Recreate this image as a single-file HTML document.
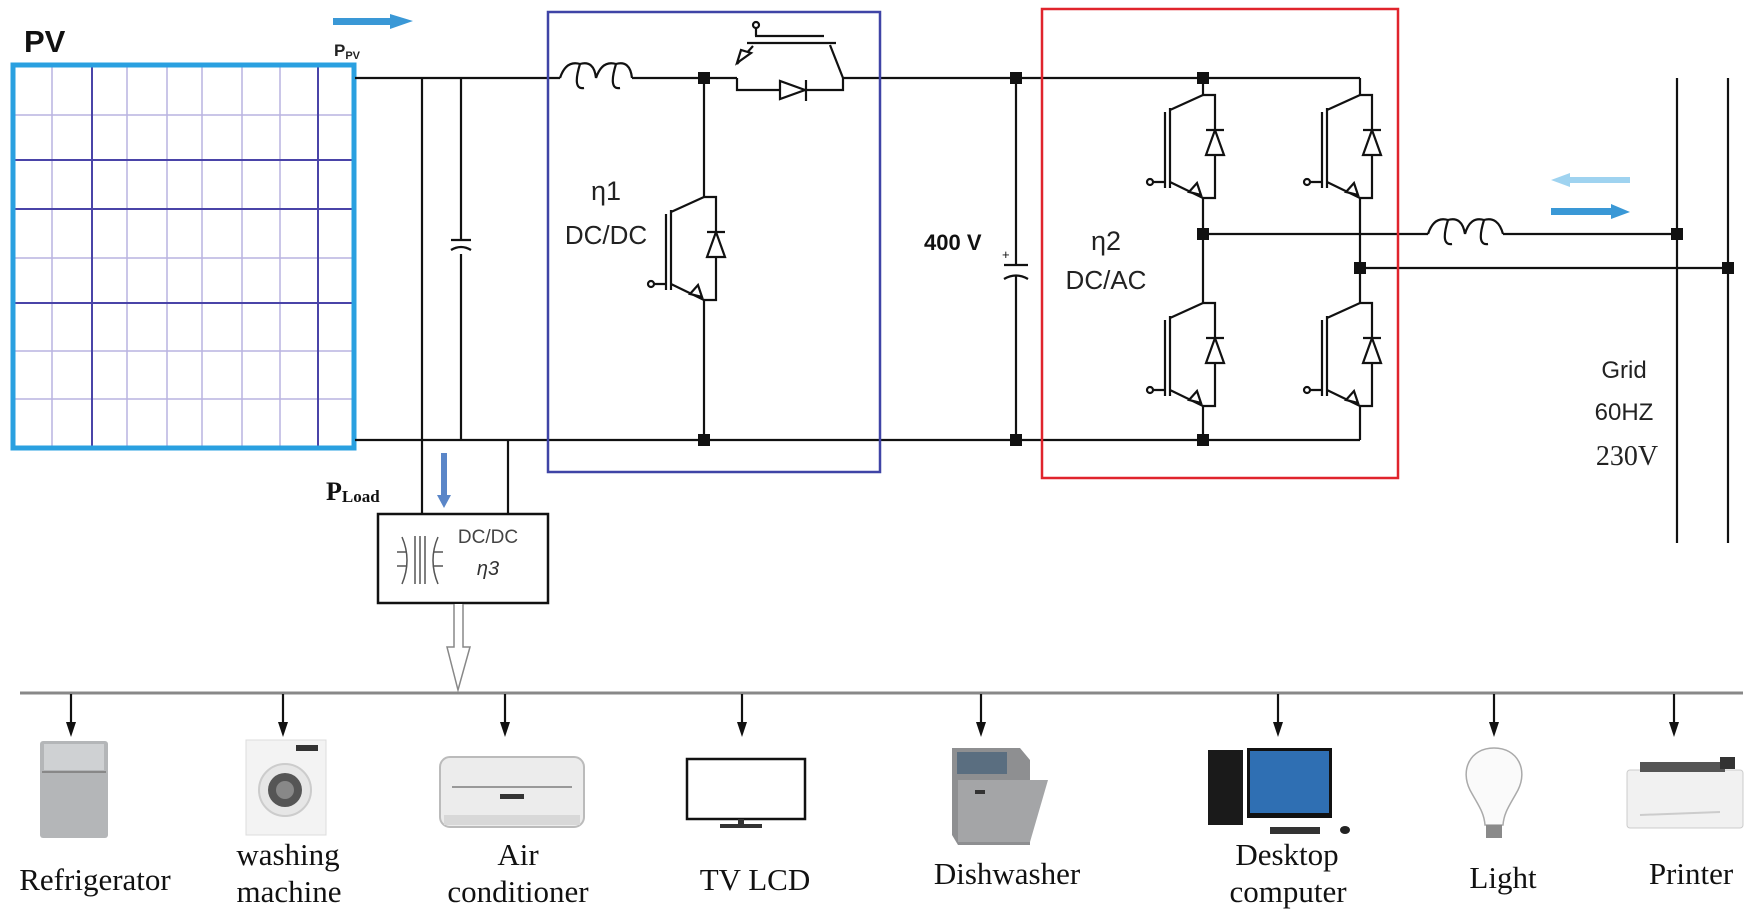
<!DOCTYPE html>
<html><head><meta charset="utf-8"><style>
html,body{margin:0;padding:0;background:#fff;}
svg{display:block;}
.s{font-family:"Liberation Serif",serif;}
.a{font-family:"Liberation Sans",sans-serif;}
</style></head><body>
<svg width="1750" height="920" viewBox="0 0 1750 920" xmlns="http://www.w3.org/2000/svg">
<defs>
<g id="igbt" fill="none" stroke="#111" stroke-width="2.2">
  <path d="M0,0 L-33,15 M-33,13 V93 M-33,87 L0,103 M-38,17 V93 M-38,87 H-50"/>
  <circle cx="-53" cy="87" r="3"/>
  <path d="M-14,97 L-6,88 L-2,100 Z" fill="#fff"/>
  <path d="M0,0 H12 V103 H0"/>
  <path d="M12,35 L3,60 H21 Z" fill="#fff"/>
  <path d="M3,35 H21"/>
</g>
</defs>

<!-- PV panel -->
<text x="24" y="52" class="a" font-size="31" font-weight="bold" fill="#111">PV</text>
<g stroke="#b9b4e0" stroke-width="1.5">
  <line x1="52" y1="66" x2="52" y2="447"/><line x1="127" y1="66" x2="127" y2="447"/>
  <line x1="167" y1="66" x2="167" y2="447"/><line x1="202" y1="66" x2="202" y2="447"/>
  <line x1="242" y1="66" x2="242" y2="447"/><line x1="280" y1="66" x2="280" y2="447"/>
  <line x1="15" y1="115" x2="353" y2="115"/><line x1="15" y1="258" x2="353" y2="258"/>
  <line x1="15" y1="351" x2="353" y2="351"/><line x1="15" y1="399" x2="353" y2="399"/>
</g>
<g stroke="#4a44a8" stroke-width="2">
  <line x1="92" y1="66" x2="92" y2="447"/><line x1="318" y1="66" x2="318" y2="447"/>
  <line x1="15" y1="160" x2="353" y2="160"/><line x1="15" y1="209" x2="353" y2="209"/>
  <line x1="15" y1="303" x2="353" y2="303"/>
</g>
<rect x="13" y="65" width="341" height="383" fill="none" stroke="#2aa0e0" stroke-width="5"/>

<!-- P_PV arrow -->
<path d="M333,18 H390 V14 L413,21 L390,29 V25 H333 Z" fill="#3a98d6"/>
<text x="334" y="56" class="a" font-size="17" font-weight="bold" fill="#222">P<tspan font-size="11" dy="3">PV</tspan></text>

<!-- rails -->
<g stroke="#111" stroke-width="2.2" fill="none">
  <line x1="355" y1="78" x2="560" y2="78"/>
  <line x1="355" y1="440" x2="1360" y2="440"/>
  <line x1="422" y1="78" x2="422" y2="514"/>
  <line x1="461" y1="78" x2="461" y2="240"/>
  <line x1="461" y1="254" x2="461" y2="440"/>
  <path d="M451,240 H471 M451,250 Q461,244 471,250"/>
  <line x1="508" y1="440" x2="508" y2="514"/>
  <path d="M560,78 Q566,60 580,64 Q594,60 596,78 M580,64 Q572,90 584,88 M596,78 Q602,60 616,64 Q630,60 632,78 M616,64 Q608,90 620,88 M632,78 H704"/>
  <line x1="704" y1="78" x2="737" y2="78"/>
  <line x1="704" y1="78" x2="704" y2="197"/>
  <line x1="704" y1="300" x2="704" y2="440"/>
  <path d="M737,78 V90 H843 V78 M737,64 L753,46 M747,43 H836 M755,36 H824 M830,45 L843,78"/>
  <circle cx="756" cy="25" r="3"/>
  <line x1="756" y1="28" x2="756" y2="36"/>
  <path d="M737,63 L751,53 L741,50 Z" fill="#fff"/>
  <path d="M780,81 L780,99 L805,90 Z" fill="#fff"/>
  <line x1="806" y1="80" x2="806" y2="101"/>
  <line x1="843" y1="78" x2="1360" y2="78"/>
  <line x1="1016" y1="78" x2="1016" y2="265"/>
  <line x1="1016" y1="276" x2="1016" y2="440"/>
  <path d="M1004,265 H1028 M1004,279 Q1016,272 1028,279"/>
  <line x1="1203" y1="78" x2="1203" y2="95"/>
  <line x1="1203" y1="198" x2="1203" y2="303"/>
  <line x1="1203" y1="406" x2="1203" y2="440"/>
  <line x1="1360" y1="78" x2="1360" y2="95"/>
  <line x1="1360" y1="198" x2="1360" y2="303"/>
  <line x1="1360" y1="406" x2="1360" y2="440"/>
  <line x1="1203" y1="234" x2="1428" y2="234"/>
  <path d="M1428,234 Q1434,216 1448,220 Q1462,216 1465,234 M1448,220 Q1440,246 1452,244 M1465,234 Q1470,216 1484,220 Q1498,216 1503,234 M1484,220 Q1476,246 1488,244 M1503,234 H1677"/>
  <line x1="1360" y1="268" x2="1730" y2="268"/>
  <line x1="1677" y1="78" x2="1677" y2="543"/>
  <line x1="1728" y1="78" x2="1728" y2="543"/>
</g>
<use href="#igbt" x="704" y="197"/>
<use href="#igbt" x="1203" y="95"/>
<use href="#igbt" x="1203" y="303"/>
<use href="#igbt" x="1360" y="95"/>
<use href="#igbt" x="1360" y="303"/>

<g fill="#111">
  <rect x="698" y="72" width="12" height="12"/><rect x="698" y="434" width="12" height="12"/>
  <rect x="1010" y="72" width="12" height="12"/><rect x="1010" y="434" width="12" height="12"/>
  <rect x="1197" y="72" width="12" height="12"/><rect x="1197" y="434" width="12" height="12"/>
  <rect x="1197" y="228" width="12" height="12"/><rect x="1354" y="262" width="12" height="12"/>
  <rect x="1671" y="228" width="12" height="12"/><rect x="1722" y="262" width="12" height="12"/>
</g>

<rect x="548" y="12" width="332" height="460" fill="none" stroke="#3f44a6" stroke-width="2.5"/>
<rect x="1042" y="9" width="356" height="469" fill="none" stroke="#e0242c" stroke-width="2.5"/>

<text x="606" y="200" class="a" font-size="27" fill="#222" text-anchor="middle">η1</text>
<text x="606" y="244" class="a" font-size="26" fill="#222" text-anchor="middle">DC/DC</text>
<text x="1106" y="250" class="a" font-size="27" fill="#222" text-anchor="middle">η2</text>
<text x="1106" y="289" class="a" font-size="26" fill="#222" text-anchor="middle">DC/AC</text>
<text x="924" y="250" class="a" font-size="22" font-weight="bold" fill="#111">400 V</text>
<text x="1002" y="259" class="a" font-size="13" fill="#111">+</text>
<text x="1624" y="378" class="a" font-size="24" fill="#222" text-anchor="middle">Grid</text>
<text x="1624" y="420" class="a" font-size="24" fill="#222" text-anchor="middle">60HZ</text>
<text x="1627" y="465" class="s" font-size="28" fill="#222" text-anchor="middle">230V</text>

<path d="M1630,177 H1570 V173 L1551,180 L1570,187 V183 H1630 Z" fill="#9fd3f0"/>
<path d="M1551,208 H1611 V204 L1630,212 L1611,219 V215 H1551 Z" fill="#3a98d6"/>

<text x="326" y="500" class="s" font-size="26" font-weight="bold" fill="#111">P<tspan font-size="17" dy="2">Load</tspan></text>
<path d="M441,453 H447 V495 H451 L444,508 L437,495 H441 Z" fill="#5a86c8"/>
<rect x="378" y="514" width="170" height="89" fill="#fff" stroke="#111" stroke-width="2.5"/>
<g stroke="#555" stroke-width="1.5" fill="none">
  <line x1="415" y1="536" x2="415" y2="584"/><line x1="420" y1="536" x2="420" y2="584"/><line x1="425" y1="536" x2="425" y2="584"/>
  <path d="M402,537 Q412,560 402,584 M438,537 Q428,560 438,584 M397,552 H407 M397,566 H407 M433,552 H443 M433,566 H443"/>
</g>
<text x="488" y="543" class="a" font-size="19" fill="#444" text-anchor="middle">DC/DC</text>
<text x="488" y="575" class="a" font-size="20" font-style="italic" fill="#333" text-anchor="middle">η3</text>
<path d="M454,604 V647 H447 L458,690 L470,647 H463 V604" fill="#fff" stroke="#888" stroke-width="1.5"/>

<line x1="20" y1="693" x2="1743" y2="693" stroke="#888" stroke-width="3"/>
<g stroke="#111" stroke-width="2.2">
  <line x1="71" y1="694" x2="71" y2="726"/><line x1="283" y1="694" x2="283" y2="726"/>
  <line x1="505" y1="694" x2="505" y2="726"/><line x1="742" y1="694" x2="742" y2="726"/>
  <line x1="981" y1="694" x2="981" y2="726"/><line x1="1278" y1="694" x2="1278" y2="726"/>
  <line x1="1494" y1="694" x2="1494" y2="726"/><line x1="1674" y1="694" x2="1674" y2="726"/>
</g>
<g fill="#111">
  <path d="M66,722 H76 L71,737 Z"/><path d="M278,722 H288 L283,737 Z"/>
  <path d="M500,722 H510 L505,737 Z"/><path d="M737,722 H747 L742,737 Z"/>
  <path d="M976,722 H986 L981,737 Z"/><path d="M1273,722 H1283 L1278,737 Z"/>
  <path d="M1489,722 H1499 L1494,737 Z"/><path d="M1669,722 H1679 L1674,737 Z"/>
</g>

<rect x="40" y="741" width="68" height="97" rx="3" fill="#b4b6b8"/>
<rect x="44" y="744" width="60" height="26" fill="#cfd1d3"/>
<line x1="42" y1="772" x2="106" y2="772" stroke="#888" stroke-width="2"/>
<rect x="246" y="740" width="80" height="95" fill="#f3f3f3" stroke="#ddd"/>
<rect x="296" y="745" width="22" height="6" fill="#333"/>
<circle cx="285" cy="790" r="26" fill="#e6e6e6" stroke="#ccc" stroke-width="2"/>
<circle cx="285" cy="790" r="17" fill="#555"/>
<circle cx="285" cy="790" r="9" fill="#888"/>
<rect x="440" y="757" width="144" height="70" rx="10" fill="#ececec" stroke="#bbb" stroke-width="2"/>
<line x1="452" y1="787" x2="572" y2="787" stroke="#999" stroke-width="2"/>
<rect x="500" y="794" width="24" height="5" fill="#333"/>
<rect x="444" y="815" width="136" height="10" fill="#d8d8d8"/>
<rect x="687" y="759" width="118" height="60" fill="#fff" stroke="#111" stroke-width="2.5"/>
<rect x="738" y="819" width="6" height="5" fill="#333"/><rect x="720" y="824" width="42" height="4" fill="#333"/>
<path d="M952,748 L1020,748 L1030,760 L1030,845 L958,845 L952,835 Z" fill="#8e8f91"/>
<rect x="957" y="752" width="50" height="22" fill="#5a6e80"/>
<path d="M958,780 L1048,780 L1030,842 L958,842 Z" fill="#a4a5a7"/>
<rect x="975" y="790" width="10" height="4" fill="#333"/>
<rect x="1208" y="750" width="35" height="75" fill="#1a1a1a"/>
<rect x="1247" y="748" width="85" height="70" fill="#111"/>
<rect x="1250" y="751" width="79" height="62" fill="#2f6fb3"/>
<rect x="1270" y="827" width="50" height="7" fill="#333"/>
<ellipse cx="1345" cy="830" rx="5" ry="4" fill="#222"/>
<path d="M1494,748 C1470,748 1460,770 1470,790 C1478,805 1484,812 1485,825 H1503 C1504,812 1510,805 1518,790 C1528,770 1518,748 1494,748 Z" fill="#fafafa" stroke="#aaa" stroke-width="1.5"/>
<rect x="1486" y="825" width="16" height="13" fill="#8a8a8a"/>
<rect x="1627" y="770" width="116" height="58" rx="3" fill="#f1f1f1" stroke="#ccc"/>
<rect x="1640" y="762" width="85" height="10" fill="#555"/>
<rect x="1720" y="757" width="15" height="12" fill="#333"/>
<line x1="1640" y1="815" x2="1720" y2="812" stroke="#ccc" stroke-width="2"/>

<g class="s" font-size="31" fill="#111" text-anchor="middle">
  <text x="95" y="890">Refrigerator</text>
  <text x="288" y="865">washing</text>
  <text x="289" y="902">machine</text>
  <text x="518" y="865">Air</text>
  <text x="518" y="902">conditioner</text>
  <text x="755" y="890">TV LCD</text>
  <text x="1007" y="884">Dishwasher</text>
  <text x="1287" y="865">Desktop</text>
  <text x="1288" y="902">computer</text>
  <text x="1503" y="888">Light</text>
  <text x="1691" y="884">Printer</text>
</g>
</svg>
</body></html>
